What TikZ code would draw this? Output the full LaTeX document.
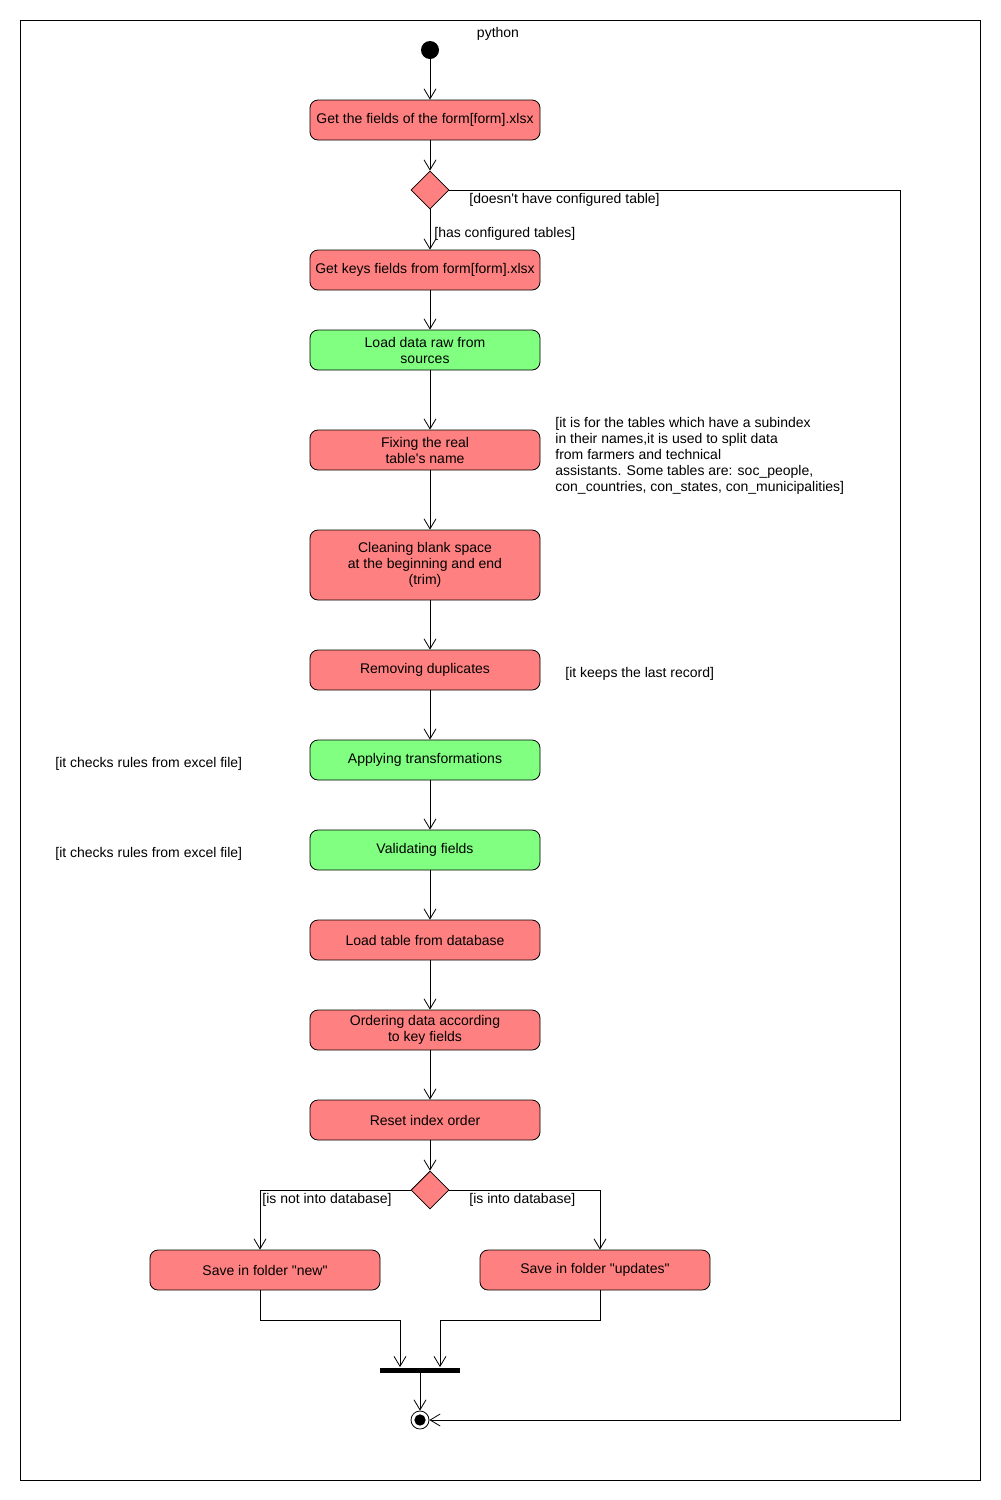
\documentclass[tikz,border=0pt]{standalone}
\usepackage{fontspec}
\setmainfont{Liberation Sans}[Ligatures=TeXOff]
\usetikzlibrary{arrows.meta,shapes.geometric}
\definecolor{actred}{HTML}{FF8080}
\definecolor{actgreen}{HTML}{80FF80}
\begin{document}
\begin{tikzpicture}[x=0.75pt,y=-0.75pt,
  font=\fontsize{10.5pt}{12pt}\selectfont,
  line width=0.6pt,
  act/.style={draw, rounded corners=6pt, minimum width=172.5pt, minimum height=30pt, align=center, inner sep=0pt},
  redact/.style={act, fill=actred},
  greenact/.style={act, fill=actgreen},
  decision/.style={draw, diamond, fill=actred, minimum width=28.5pt, minimum height=28.5pt, inner sep=0pt},
  arr/.style={-{Straight Barb[length=7.5pt,width=9pt]}},
  lbl/.style={anchor=west, inner sep=0pt, align=left}]
\fill[white] (0,0) rectangle (1000,1500);
\draw (20,20) rectangle (980,1480);
\node[inner sep=0pt] (title) at (498,34) {python};
\node[circle, fill=black, minimum size=13.5pt, inner sep=0pt] (start) at (430,50) {};
\node[redact] (getfields) at (425,120) {Get the fields of the form[form].xlsx};
\node[decision] (d1) at (430,190) {};
\node[redact] (getkeys) at (425,270) {Get keys fields from form[form].xlsx};
\node[greenact] (loadraw) at (425,350) {Load data raw from\\sources};
\node[redact] (fixing) at (425,450) {Fixing the real\\table's name};
\node[redact, minimum height=52.5pt] (cleaning) at (425,565) {Cleaning blank space\\at the beginning and end\\(trim)};
\node[redact] (dups) at (425,670) {Removing duplicates};
\node[greenact] (transf) at (425,760) {Applying transformations};
\node[greenact] (valid) at (425,850) {Validating fields};
\node[redact] (loadtab) at (425,940) {Load table from database};
\node[redact] (order) at (425,1030) {Ordering data according\\to key fields};
\node[redact] (reset) at (425,1120) {Reset index order};
\node[decision] (d2) at (430,1190) {};
\node[redact] (new) at (265,1270) {Save in folder "new"};
\node[redact] (upd) at (595,1270) {Save in folder "updates"};
\node[fill=black, minimum width=60pt, minimum height=3.75pt, inner sep=0pt] (bar) at (420,1370) {};
\node[circle, draw, fill=white, minimum size=13.5pt, inner sep=0pt] (end) at (420,1420) {};
\node[circle, fill=black, minimum size=8.5pt, inner sep=0pt] (endin) at (420,1420) {};
% labels
\node[lbl] (l1) at (469,200) {[doesn't have configured table]};
\node[lbl] (l2) at (434,234) {[has configured tables]};
\node[lbl, anchor=north west] (l3) at (555,417) {[it is for the tables which have a subindex\\in their names,it is used to split data\\from farmers and technical\\assistants. Some tables are: soc\_people,\\con\_countries, con\_states, con\_municipalities]};
\node[lbl] (l4) at (565,674) {[it keeps the last record]};
\node[lbl] (l5) at (55,764) {[it checks rules from excel file]};
\node[lbl] (l6) at (55,854) {[it checks rules from excel file]};
\node[lbl] (l7) at (262,1200) {[is not into database]};
\node[lbl] (l8) at (469,1200) {[is into database]};
% connectors
\draw[arr] (start) -- ([xshift=3.75pt]getfields.north);
\draw[arr] ([xshift=3.75pt]getfields.south) -- (d1.north);
\draw[arr] (d1.south) -- ([xshift=3.75pt]getkeys.north);
\draw[arr] ([xshift=3.75pt]getkeys.south) -- ([xshift=3.75pt]loadraw.north);
\draw[arr] ([xshift=3.75pt]loadraw.south) -- ([xshift=3.75pt]fixing.north);
\draw[arr] ([xshift=3.75pt]fixing.south) -- ([xshift=3.75pt]cleaning.north);
\draw[arr] ([xshift=3.75pt]cleaning.south) -- ([xshift=3.75pt]dups.north);
\draw[arr] ([xshift=3.75pt]dups.south) -- ([xshift=3.75pt]transf.north);
\draw[arr] ([xshift=3.75pt]transf.south) -- ([xshift=3.75pt]valid.north);
\draw[arr] ([xshift=3.75pt]valid.south) -- ([xshift=3.75pt]loadtab.north);
\draw[arr] ([xshift=3.75pt]loadtab.south) -- ([xshift=3.75pt]order.north);
\draw[arr] ([xshift=3.75pt]order.south) -- ([xshift=3.75pt]reset.north);
\draw[arr] ([xshift=3.75pt]reset.south) -- (d2.north);
\draw[arr] (d2.west) -| ([xshift=-3.75pt]new.north);
\draw[arr] (d2.east) -| ([xshift=3.75pt]upd.north);
\draw[arr] ([xshift=-3.75pt]new.south) -- ++(0,30) -| ([xshift=-15pt]bar.north);
\draw[arr] ([xshift=3.75pt]upd.south) -- ++(0,30) -| ([xshift=15pt]bar.north);
\draw[arr] (bar.south) -- (end.north);
\coordinate (c1) at (900,190);
\draw[arr] (d1.east) -- (c1) |- (end.east);
\end{tikzpicture}
\end{document}
